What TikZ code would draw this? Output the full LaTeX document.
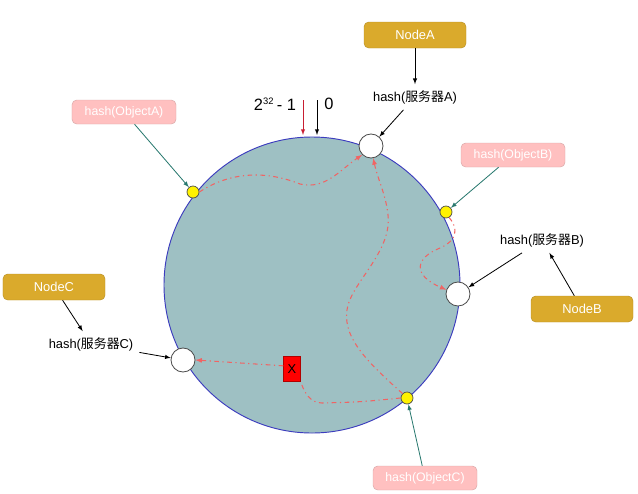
\documentclass[tikz,border=0pt]{standalone}
\usepackage{fontspec}
\setmainfont{Liberation Sans}
\newfontfamily\cjk{Noto Sans CJK SC}
\usetikzlibrary{arrows,shapes}
\definecolor{ringfill}{RGB}{158,192,195}
\definecolor{ringline}{RGB}{60,60,190}
\definecolor{gold}{RGB}{218,170,44}
\definecolor{goldline}{RGB}{184,146,42}
\definecolor{rose}{RGB}{255,192,192}
\definecolor{roseline}{RGB}{216,168,168}
\definecolor{trail}{RGB}{240,100,100}
\definecolor{teal}{RGB}{40,120,110}
\definecolor{marker}{RGB}{200,30,50}

\begin{document}
\begin{tikzpicture}[x=0.03cm,y=-0.03cm]
        \useasboundingbox (0,0) rectangle (638,493);
        \tikzset{fleche/.style={->,>=latex,line width=0.7pt}}
        \tikzset{machine/.style={draw=goldline,fill=gold,text=white,rounded corners=4pt,
                minimum width=3.06cm,minimum height=0.78cm,font=\fontsize{11}{13}\selectfont}}
        \tikzset{objet/.style={draw=roseline,fill=rose,text=white,rounded corners=4pt,
                minimum width=3.12cm,minimum height=0.72cm,font=\fontsize{10.5}{12}\selectfont}}
        \tikzset{label/.style={inner sep=5pt,font=\fontsize{11}{13}\selectfont}}
        \tikzset{serveur/.style={draw=black!70,line width=0.7pt,fill=white,circle,minimum size=0.72cm,inner sep=0pt}}
        \tikzset{point/.style={draw=black!70,line width=0.6pt,fill=yellow,circle,minimum size=0.36cm,inner sep=0pt}}
        \tikzset{trajet/.style={draw=trail,line width=0.9pt,dash pattern=on 4pt off 3pt on 1pt off 3pt}}
        \tikzset{fuite/.style={trajet,->,>=latex}}

        % the ring
        \draw[draw=ringline,fill=ringfill,line width=0.8pt] (312,285) circle (148);

        % servers on the ring
        \node[serveur] (sA) at (371,146) {};
        \node[serveur] (sB) at (458,294) {};
        \node[serveur] (sC) at (183,360) {};
        \node[point] (oA) at (193,192) {};
        \node[point] (oB) at (446,212) {};
        \node[point] (oC) at (407,398) {};
        \node[draw=red!70!black,fill=red,minimum width=0.51cm,minimum height=0.75cm,inner sep=0pt,
              font=\fontsize{11}{13}\selectfont] (X) at (292,369) {X};

        % boxes and labels
        \node[machine] (nA) at (415,35) {NodeA};
        \node[machine] (nB) at (582,309) {NodeB};
        \node[machine] (nC) at (54,287) {NodeC};
        \node[objet] (pA) at (124,112) {hash(ObjectA)};
        \node[objet] (pB) at (513,155) {hash(ObjectB)};
        \node[objet] (pC) at (425,478) {hash(ObjectC)};
        \node[label] (hA) at (415,97) {hash({\cjk 服务器}A)};
        \node[label] (hB) at (542,240) {hash({\cjk 服务器}B)};
        \node[label] (hC) at (91,344) {hash({\cjk 服务器}C)};
        \node[font=\fontsize{14}{16}\selectfont] (top) at (275,104) {2\textsuperscript{\fontsize{8}{9}\selectfont 32}\,- 1};
        \node[font=\fontsize{14}{16}\selectfont] (zero) at (329,104) {0};
        \coordinate (topS) at (303,100);
        \coordinate (topE) at (303,135);
        \coordinate (zeroS) at (317,100);
        \coordinate (zeroE) at (317,135);

        % arrows
        \draw[fleche,marker] (topS) -- (topE);
        \draw[fleche] (zeroS) -- (zeroE);
        \draw[fleche] (nA) -- (hA);
        \draw[fleche] (hA) -- (sA);
        \draw[fleche] (nB) -- (hB);
        \draw[fleche] (hB) -- (sB);
        \draw[fleche] (nC) -- (hC);
        \draw[fleche] (hC) -- (sC);
        \draw[fleche,teal] (pA) -- (oA);
        \draw[fleche,teal] (pB) -- (oB);
        \draw[fleche,teal] (pC) -- (oC);

        % where the objects go
        \draw[fuite] (oA.east) .. controls (225,175) and (260,168) .. (300,184)
              .. controls (325,190) and (340,170) .. (sA.225);
        \draw[fuite] (oB.-60) .. controls (458,228) and (458,240) .. (440,248)
              .. controls (415,258) and (412,275) .. (sB.160);
        \draw[fuite] (oC.135) .. controls (365,360) and (340,335) .. (348,305)
              .. controls (355,280) and (392,250) .. (388,215)
              .. controls (386,195) and (378,180) .. (sA.-80);
        \draw[fuite] (X.160) -- (sC.east);
        \draw[trajet] (oC.west) .. controls (360,402) .. (322,403)
              .. controls (310,403) and (304,392) .. (X.south east);
\end{tikzpicture}
\end{document}
